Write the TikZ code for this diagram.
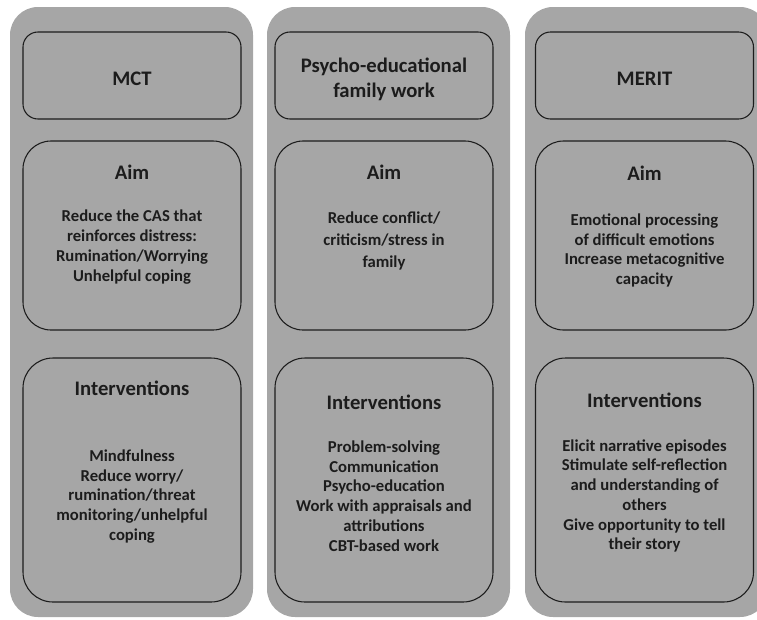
\documentclass[tikz,border=0pt]{standalone}
\usepackage{fontspec}
\setmainfont{Carlito}
\definecolor{panelgray}{HTML}{A6A6A6}
\definecolor{inkgray}{HTML}{1C1C1C}
\begin{document}
\begin{tikzpicture}[x=0.75pt, y=-0.75pt,
column/.style={rectangle,rounded corners=21pt,fill=panelgray,minimum width=182.25pt,minimum height=457.5pt,inner sep=0pt},
head box/.style={rectangle,rounded corners=11.25pt,draw=inkgray,line width=0.8pt,fill=panelgray,minimum width=163.5pt,minimum height=65.25pt,inner sep=0pt},
aim box/.style={rectangle,rounded corners=21pt,draw=inkgray,line width=0.8pt,fill=panelgray,minimum width=163.5pt,minimum height=141.75pt,inner sep=0pt},
int box/.style={rectangle,rounded corners=22.5pt,draw=inkgray,line width=0.8pt,fill=panelgray,minimum width=163.5pt,minimum height=183pt,inner sep=0pt},
title/.style={font=\fontsize{15.5}{18.5}\selectfont\bfseries,text=inkgray,align=center,inner sep=0pt},
body/.style={font=\fontsize{12.5}{14.8}\selectfont\bfseries,text=inkgray,align=center,inner sep=0pt}]
\useasboundingbox (0,0) rectangle (757,619);
\begin{scope}
\node[column] (c1) at (131.5,312) {};
\node[column] (c2) at (388.5,312) {};
\node[column] (c3) at (646.5,312) {};
\end{scope}
\begin{scope}
\node[head box] (h1) at (132,75.5) {};
\node[head box] (h2) at (384,75.5) {};
\node[head box] (h3) at (644.5,75.5) {};
\node[aim box] (a1) at (132,235.5) {};
\node[aim box] (a2) at (384,235.5) {};
\node[aim box] (a3) at (644.5,235.5) {};
\node[int box] (i1) at (132,480) {};
\node[int box] (i2) at (384,480) {};
\node[int box] (i3) at (644.5,480) {};
\end{scope}
\begin{scope}
\node[title] (mct) at (132,79) {MCT};
\node[title] (pfw) at (384,79.5) {Psycho-educational\\family work};
\node[title] (merit) at (644.5,79) {MERIT};
\node[title] (aim1) at (132,172) {Aim};
\node[title] (aim2) at (384,172) {Aim};
\node[title] (aim3) at (644.5,173) {Aim};
\node[body] (aimtxt1) at (132,247) {Reduce the CAS that\\reinforces distress:\\Rumination/Worrying\\Unhelpful coping};
\node[body,font=\fontsize{12.5}{16.5}\selectfont\bfseries] (aimtxt2) at (384,241) {Reduce conflict/\\criticism/stress in\\family};
\node[body] (aimtxt3) at (644.5,250.5) {Emotional processing\\of difficult emotions\\Increase metacognitive\\capacity};
\node[title] (int1) at (132,388) {Interventions};
\node[title] (int2) at (384,402) {Interventions};
\node[title] (int3) at (644.5,400) {Interventions};
\node[body] (inttxt1) at (132,496.5) {Mindfulness\\Reduce worry/\\rumination/threat\\monitoring/unhelpful\\coping};
\node[body] (inttxt2) at (384,496) {Problem-solving\\Communication\\Psycho-education\\Work with appraisals and\\attributions\\CBT-based work};
\node[body] (inttxt3) at (644.5,496) {Elicit narrative episodes\\Stimulate self-reflection\\and understanding of\\others\\Give opportunity to tell\\their story};
\end{scope}
\end{tikzpicture}
\end{document}
